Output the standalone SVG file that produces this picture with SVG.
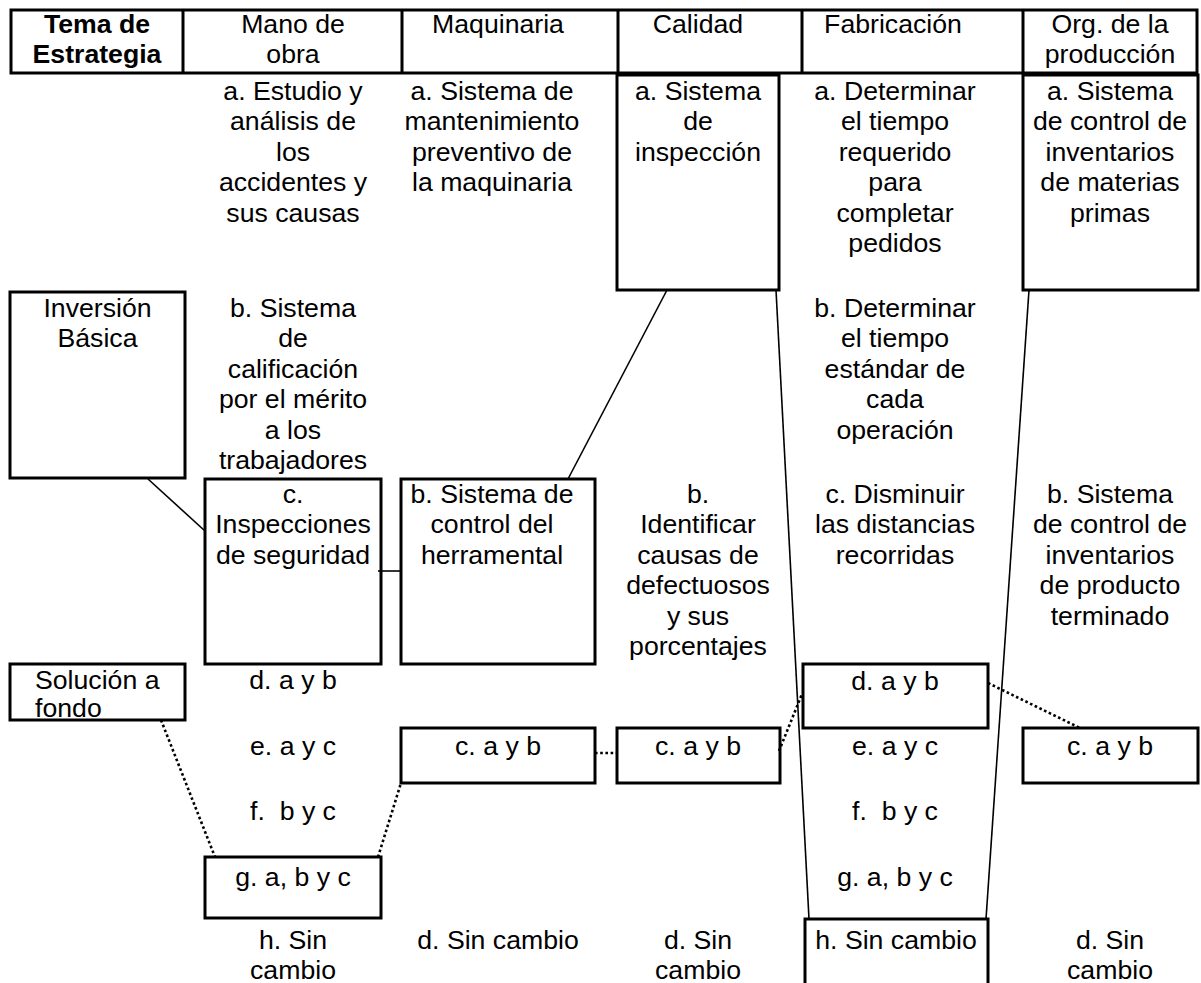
<svg xmlns="http://www.w3.org/2000/svg" width="1201" height="983" viewBox="0 0 1201 983">
  <style>
    .t { font-family: "Liberation Sans", Arial, sans-serif; font-size: 26.67px; text-anchor: middle; fill: #000; }
    .l { text-anchor: start; }
    .bold { font-weight: bold; }
    .pre { white-space: pre; }
    .box { fill: none; stroke: #000; stroke-width: 3; }
    .ln { fill: none; stroke: #000; stroke-width: 1.6; }
    .dot { fill: none; stroke: #000; stroke-width: 2.6; stroke-dasharray: 2.6 2.6; }
  </style>
  <rect width="1201" height="983" fill="#fff"/>

  <!-- header row of the strategy table -->
  <g id="header">
    <rect class="box" x="11" y="10" width="1186" height="63"/>
    <path class="box" d="M183 10V73M402 10V73M618 10V73M802 10V73M1023 10V73"/>
    <text class="t bold" x="97" y="33">Tema de<tspan x="97" dy="30">Estrategia</tspan></text>
    <text class="t" x="293" y="33">Mano de<tspan x="293" dy="30">obra</tspan></text>
    <text class="t" x="498" y="33">Maquinaria</text>
    <text class="t" x="698" y="33">Calidad</text>
    <text class="t" x="893" y="33">Fabricación</text>
    <text class="t" x="1110" y="33">Org. de la<tspan x="1110" dy="30">producción</tspan></text>
  </g>

  <!-- connectors -->
  <g id="connectors">
    <line class="ln" x1="148" y1="479" x2="205" y2="531"/>
    <line class="ln" x1="378" y1="571" x2="401" y2="571"/>
    <line class="ln" x1="568" y1="479" x2="667" y2="290"/>
    <line class="ln" x1="776" y1="290" x2="809" y2="919"/>
    <line class="ln" x1="1029" y1="290" x2="986" y2="919"/>
    <line class="dot" x1="161" y1="720" x2="215" y2="857"/>
    <line class="dot" x1="378" y1="857" x2="401" y2="783"/>
    <line class="dot" x1="595" y1="753" x2="617" y2="753"/>
    <line class="dot" x1="779" y1="751" x2="802" y2="694"/>
    <line class="dot" x1="988" y1="683" x2="1080" y2="728"/>
  </g>

  <!-- left column: strategy kinds -->
  <g id="inversion-basica">
    <rect class="box" x="10" y="292" width="175" height="186"/>
    <text class="t" x="97.5" y="317">Inversión<tspan x="97.5" dy="30.4">Básica</tspan></text>
  </g>
  <g id="solucion-a-fondo">
    <rect class="box" x="10" y="664" width="175" height="56"/>
    <text class="t l" x="35" y="689">Solución a<tspan x="35" dy="28">fondo</tspan></text>
  </g>

  <!-- Mano de obra -->
  <g id="mano-a">
    <text class="t" x="293" y="100">a. Estudio y<tspan x="293" dy="30.4">análisis de</tspan><tspan x="293" dy="30.4">los</tspan><tspan x="293" dy="30.4">accidentes y</tspan><tspan x="293" dy="30.4">sus causas</tspan></text>
  </g>
  <g id="mano-b">
    <text class="t" x="293" y="317">b. Sistema<tspan x="293" dy="30.4">de</tspan><tspan x="293" dy="30.4">calificación</tspan><tspan x="293" dy="30.4">por el mérito</tspan><tspan x="293" dy="30.4">a los</tspan><tspan x="293" dy="30.4">trabajadores</tspan></text>
  </g>
  <g id="mano-c">
    <rect class="box" x="205" y="479" width="176" height="185"/>
    <text class="t" x="293" y="503">c.<tspan x="293" dy="30.4">Inspecciones</tspan><tspan x="293" dy="30.4">de seguridad</tspan></text>
  </g>
  <g id="mano-d"><text class="t" x="293" y="689">d. a y b</text></g>
  <g id="mano-e"><text class="t" x="293" y="755">e. a y c</text></g>
  <g id="mano-f"><text class="t pre" x="293" y="820">f.  b y c</text></g>
  <g id="mano-g">
    <rect class="box" x="205" y="857" width="176" height="61"/>
    <text class="t" x="293" y="886">g. a, b y c</text>
  </g>
  <g id="mano-h">
    <text class="t" x="293" y="949">h. Sin<tspan x="293" dy="30">cambio</tspan></text>
  </g>

  <!-- Maquinaria -->
  <g id="maq-a">
    <text class="t" x="492" y="100">a. Sistema de<tspan x="492" dy="30.4">mantenimiento</tspan><tspan x="492" dy="30.4">preventivo de</tspan><tspan x="492" dy="30.4">la maquinaria</tspan></text>
  </g>
  <g id="maq-b">
    <rect class="box" x="401" y="479" width="194" height="185"/>
    <text class="t" x="492" y="503">b. Sistema de<tspan x="492" dy="30.4">control del</tspan><tspan x="492" dy="30.4">herramental</tspan></text>
  </g>
  <g id="maq-c">
    <rect class="box" x="401" y="728" width="194" height="55"/>
    <text class="t" x="498" y="755">c. a y b</text>
  </g>
  <g id="maq-d"><text class="t" x="498" y="949">d. Sin cambio</text></g>

  <!-- Calidad -->
  <g id="cal-a">
    <rect class="box" x="617" y="75" width="162" height="215"/>
    <text class="t" x="698" y="100">a. Sistema<tspan x="698" dy="30.4">de</tspan><tspan x="698" dy="30.4">inspección</tspan></text>
  </g>
  <g id="cal-b">
    <text class="t" x="698" y="503">b.<tspan x="698" dy="30.4">Identificar</tspan><tspan x="698" dy="30.4">causas de</tspan><tspan x="698" dy="30.4">defectuosos</tspan><tspan x="698" dy="30.4">y sus</tspan><tspan x="698" dy="30.4">porcentajes</tspan></text>
  </g>
  <g id="cal-c">
    <rect class="box" x="617" y="728" width="163" height="55"/>
    <text class="t" x="698" y="755">c. a y b</text>
  </g>
  <g id="cal-d">
    <text class="t" x="698" y="949">d. Sin<tspan x="698" dy="30">cambio</tspan></text>
  </g>

  <!-- Fabricación -->
  <g id="fab-a">
    <text class="t" x="895" y="100">a. Determinar<tspan x="895" dy="30.4">el tiempo</tspan><tspan x="895" dy="30.4">requerido</tspan><tspan x="895" dy="30.4">para</tspan><tspan x="895" dy="30.4">completar</tspan><tspan x="895" dy="30.4">pedidos</tspan></text>
  </g>
  <g id="fab-b">
    <text class="t" x="895" y="317">b. Determinar<tspan x="895" dy="30.4">el tiempo</tspan><tspan x="895" dy="30.4">estándar de</tspan><tspan x="895" dy="30.4">cada</tspan><tspan x="895" dy="30.4">operación</tspan></text>
  </g>
  <g id="fab-c">
    <text class="t" x="895" y="503">c. Disminuir<tspan x="895" dy="30.4">las distancias</tspan><tspan x="895" dy="30.4">recorridas</tspan></text>
  </g>
  <g id="fab-d">
    <rect class="box" x="803" y="664" width="185" height="64"/>
    <text class="t" x="895" y="690">d. a y b</text>
  </g>
  <g id="fab-e"><text class="t" x="895" y="755">e. a y c</text></g>
  <g id="fab-f"><text class="t pre" x="895" y="820">f.  b y c</text></g>
  <g id="fab-g"><text class="t" x="895" y="886">g. a, b y c</text></g>
  <g id="fab-h">
    <path class="box" d="M805 990V919H988V990"/>
    <text class="t" x="896" y="949">h. Sin cambio</text>
  </g>

  <!-- Org. de la producción -->
  <g id="org-a">
    <rect class="box" x="1023" y="75" width="175" height="215"/>
    <text class="t" x="1110" y="100">a. Sistema<tspan x="1110" dy="30.4">de control de</tspan><tspan x="1110" dy="30.4">inventarios</tspan><tspan x="1110" dy="30.4">de materias</tspan><tspan x="1110" dy="30.4">primas</tspan></text>
  </g>
  <g id="org-b">
    <text class="t" x="1110" y="503">b. Sistema<tspan x="1110" dy="30.4">de control de</tspan><tspan x="1110" dy="30.4">inventarios</tspan><tspan x="1110" dy="30.4">de producto</tspan><tspan x="1110" dy="30.4">terminado</tspan></text>
  </g>
  <g id="org-c">
    <rect class="box" x="1023" y="728" width="175" height="55"/>
    <text class="t" x="1110" y="755">c. a y b</text>
  </g>
  <g id="org-d">
    <text class="t" x="1110" y="949">d. Sin<tspan x="1110" dy="30">cambio</tspan></text>
  </g>
</svg>
